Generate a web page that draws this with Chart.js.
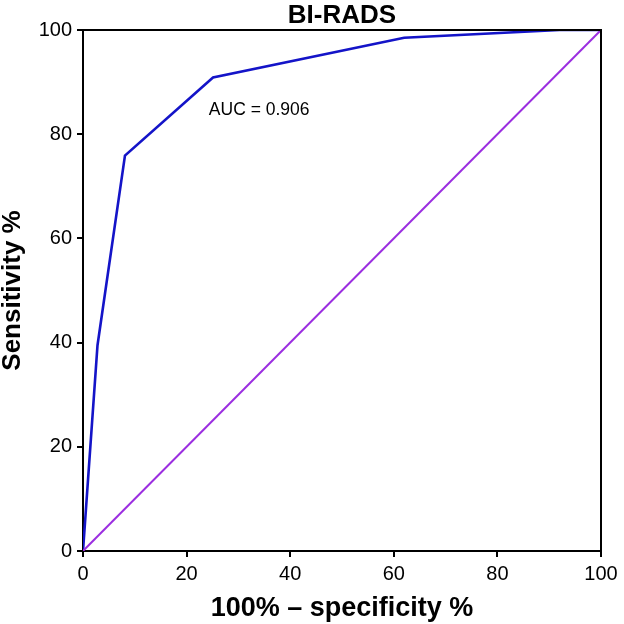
<!DOCTYPE html>
<html>
<head>
<meta charset="utf-8">
<script src="https://cdn.jsdelivr.net/npm/chart.js@4"></script>
<style>
html,body{margin:0;padding:0;background:#fff;}
#wrap{width:624px;height:624px;}
</style>
</head>
<body>
<div id="wrap"><canvas id="c" width="624" height="624"></canvas></div>
<script>
const chartTitle = 'BI-RADS';
const xTitle = '100% \u2013 specificity %';
const yTitle = 'Sensitivity %';
const rocX = [0, 2.8, 8.1, 25.1, 62.0, 92.0, 100];
const rocY = [0, 39.5, 75.9, 90.9, 98.5, 100, 100];
const refX = [0, 100];
const refY = [0, 100];
const aucLabel = 'AUC = 0.906';
const aucPos = [24.3, 84.6];
const tickValues = [0, 20, 40, 60, 80, 100];

const font = "'Liberation Sans', Arial, sans-serif";

const framePlugin = {
  id: 'frame',
  afterDatasetsDraw(chart) {
    const {ctx, chartArea: a, scales} = chart;
    ctx.save();
    ctx.strokeStyle = '#000';
    ctx.lineWidth = 2;
    ctx.beginPath();
    ctx.moveTo(a.left, a.top); ctx.lineTo(a.right, a.top); ctx.lineTo(a.right, a.bottom);
    ctx.stroke();
    ctx.fillStyle = '#000';
    ctx.font = '17.5px ' + font;
    ctx.textAlign = 'left';
    ctx.textBaseline = 'middle';
    ctx.fillText(aucLabel, scales.x.getPixelForValue(aucPos[0]), scales.y.getPixelForValue(aucPos[1]));
    ctx.font = 'bold 26px ' + font;
    ctx.textAlign = 'center';
    ctx.textBaseline = 'alphabetic';
    ctx.fillText(chartTitle, (a.left + a.right) / 2, 22.5);
    ctx.restore();
  }
};

new Chart(document.getElementById('c'), {
  type: 'scatter',
  data: {
    datasets: [
      {
        data: refX.map((x, i) => ({x, y: refY[i]})),
        showLine: true, borderColor: '#9b2ee0', borderWidth: 2, pointRadius: 0, tension: 0
      },
      {
        data: rocX.map((x, i) => ({x, y: rocY[i]})),
        showLine: true, borderColor: '#1414c8', borderWidth: 2.6, pointRadius: 0, tension: 0
      }
    ]
  },
  options: {
    responsive: false,
    animation: false,
    devicePixelRatio: 1,
    layout: {padding: {left: 0, right: 23, top: 30, bottom: 0}},
    plugins: {
      legend: {display: false},
      tooltip: {enabled: false},
      title: {display: false}
    },
    scales: {
      x: {
        type: 'linear', min: 0, max: 100,
        afterBuildTicks: s => { s.ticks = tickValues.map(v => ({value: v})); },
        afterFit: s => { s.height = 73; },
        border: {display: true, color: '#000', width: 2},
        grid: {display: true, drawOnChartArea: false, drawTicks: true, tickLength: 6, color: '#000', lineWidth: 2},
        ticks: {color: '#000', font: {family: font, size: 20}, padding: 5, maxRotation: 0},
        title: {display: true, text: xTitle, color: '#000', font: {family: font, size: 27, weight: 'bold', lineHeight: 1.0}, padding: {top: 0, bottom: 2}}
      },
      y: {
        type: 'linear', min: 0, max: 100,
        afterBuildTicks: s => { s.ticks = tickValues.map(v => ({value: v})); },
        afterFit: s => { s.width = 83; },
        border: {display: true, color: '#000', width: 2},
        grid: {display: true, drawOnChartArea: false, drawTicks: true, tickLength: 6, color: '#000', lineWidth: 2},
        ticks: {color: '#000', font: {family: font, size: 20}, padding: 5},
        title: {display: true, text: yTitle, color: '#000', font: {family: font, size: 26, weight: 'bold', lineHeight: 1.0}, padding: {top: 0, bottom: 0}}
      }
    }
  },
  plugins: [framePlugin]
});
</script>
</body>
</html>
